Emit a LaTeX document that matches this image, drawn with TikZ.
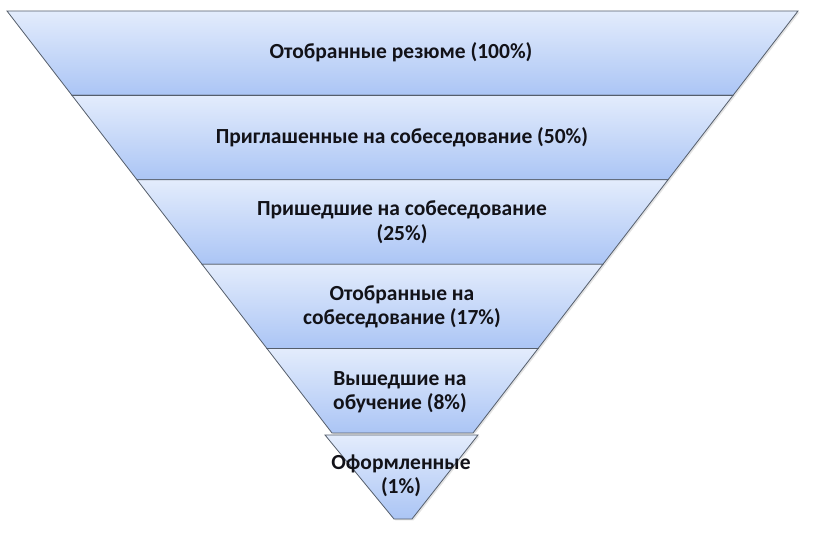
\documentclass[tikz,border=0pt]{standalone}
\usepackage{fontspec}
\setmainfont{Carlito}
\usetikzlibrary{shadows}
\definecolor{bandtop}{HTML}{E3ECFC}
\definecolor{bandbot}{HTML}{ABC5F5}
\definecolor{edgecol}{HTML}{555E6B}
\definecolor{txtcol}{HTML}{121218}
\tikzset{
  band/.style={draw=edgecol, line width=0.8pt, line join=miter, top color=bandtop, bottom color=bandbot,
    drop shadow={shadow xshift=1.5pt, shadow yshift=-1.5pt, opacity=0.18, fill=black!60}},
  lbl/.style={font=\bfseries\fontsize{21.5}{24.5}\selectfont, text=txtcol, align=center, inner sep=0pt}
}
\begin{document}
\begin{tikzpicture}[x=1pt,y=-1pt]
\useasboundingbox (0,0) rectangle (815,537);
\fill[white] (0,0) rectangle (815,537);
\path[band] (7,11) -- (798,11) -- (733,95.4) -- (72,95.4) -- cycle;
\path[band] (72,95.4) -- (733,95.4) -- (668,179.8) -- (137,179.8) -- cycle;
\path[band] (137,179.8) -- (668,179.8) -- (603,264.2) -- (202,264.2) -- cycle;
\path[band] (202,264.2) -- (603,264.2) -- (538,348.6) -- (267,348.6) -- cycle;
\path[band] (267,348.6) -- (538,348.6) -- (473,433) -- (332,433) -- cycle;
\path[band] (325,435) -- (478,435) -- (412,519) -- (394,519) -- cycle;
\node[lbl] (b1) at (401,52) {Отобранные резюме (100\%)};
\node[lbl] (b2) at (402,137) {Приглашенные на собеседование (50\%)};
\node[lbl] (b3) at (402,222) {Пришедшие на собеседование\\(25\%)};
\node[lbl] (b4) at (402,307) {Отобранные на\\собеседование (17\%)};
\node[lbl] (b5) at (400,392) {Вышедшие на\\обучение (8\%)};
\node[lbl] (b6) at (401,476) {Оформленные\\(1\%)};
\end{tikzpicture}
\end{document}
